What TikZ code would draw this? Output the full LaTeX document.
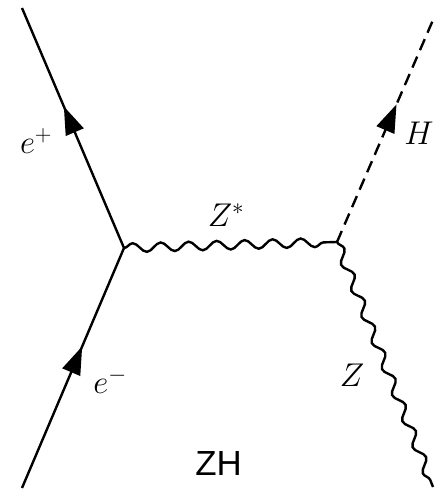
\RequirePackage{fix-cm}
\documentclass[tikz,border=0pt]{standalone}
\usepackage{fontspec}
\setsansfont{Liberation Sans}
\usetikzlibrary{arrows.meta,decorations.pathmorphing,decorations.markings}
\tikzset{
  fermion/.style={line width=2.4bp, postaction={decorate},
    decoration={markings, mark=at position #1 with {\arrow{Triangle[length=28bp,width=19bp]}}}},
  scalar/.style={fermion=#1, dash pattern=on 12bp off 7bp},
  boson/.style={line width=2.4bp, decorate,
    decoration={snake, amplitude=4.5bp, segment length=28bp}},
  lbl/.style={font=\fontsize{33}{40}\selectfont, inner sep=0pt}
}

\begin{document}
\begin{tikzpicture}[x=1bp,y=1bp]
  \useasboundingbox (0,0) rectangle (439,492);
  % vertices and free ends
  \coordinate (v1) at (124,244);
  \coordinate (v2) at (337,250);
  \coordinate (ep) at (22,484);
  \coordinate (em) at (22,4);
  \coordinate (hout) at (433,472);
  \coordinate (zout) at (433,5);
  % lines
  \draw[fermion=0.59] (v1) -- (ep);
  \draw[fermion=0.59] (em) -- (v1);
  \draw[boson] (v1) -- (v2);
  \draw[scalar=0.62] (v2) -- (hout);
  \draw[boson] (v2) -- (zout);
  % labels
  \node[lbl] (lep) at (36,351) {$e^+$};
  \node[lbl] (lem) at (110,111) {$e^-$};
  \node[lbl] (lzs) at (226,277) {$Z^*$};
  \node[lbl] (lh) at (419,359) {$H$};
  \node[lbl] (lz) at (352,117) {$Z$};
  \node[font=\sffamily\fontsize{35}{42}\selectfont, inner sep=0pt] (title) at (218.5,28) {ZH};
\end{tikzpicture}
\end{document}
